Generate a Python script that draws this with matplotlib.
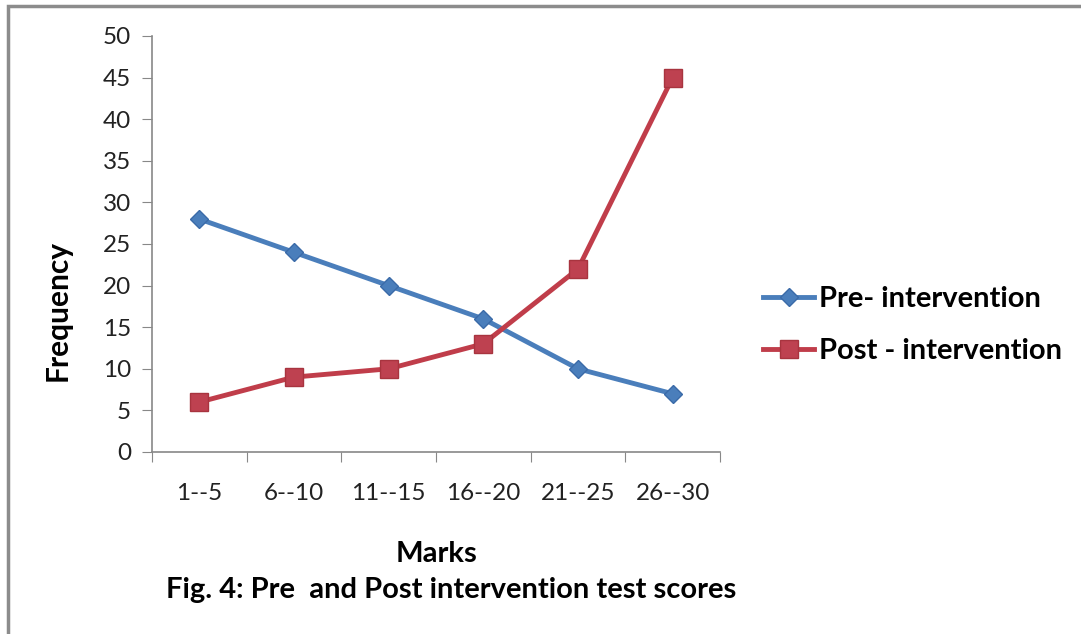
import matplotlib.pyplot as plt
from matplotlib.patches import Rectangle

# Frequency of test marks before and after the intervention
marks = ['1--5', '6--10', '11--15', '16--20', '21--25', '26--30']
pre_intervention = [28, 24, 20, 16, 10, 7]
post_intervention = [6, 9, 10, 13, 22, 45]

plt.rcParams['font.family'] = ['Lato', 'DejaVu Sans']

fig = plt.figure(figsize=(10.81, 6.34), dpi=100)

# gray frame around the chart area (right/bottom edges fall outside the image)
fig.patches.append(Rectangle((8 / 1081, -0.1), 1.2, (634 - 6) / 634 + 0.1,
                             transform=fig.transFigure, fill=False,
                             edgecolor='#8c8c8c', linewidth=2.5))

ax = fig.add_axes([152 / 1081, 182 / 634, 568 / 1081, 416 / 634])
x = range(len(marks))

ax.plot(x, pre_intervention, color='#4a7ebb', linewidth=3.5,
        marker='D', markersize=9, markerfacecolor='#4a7ebb',
        markeredgecolor='#3a6aa8', label='Pre- intervention')
ax.plot(x, post_intervention, color='#c03d4a', linewidth=3.5,
        marker='s', markersize=13, markerfacecolor='#be4150',
        markeredgecolor='#a8343f', label='Post - intervention')

ax.set_xlim(-0.5, len(marks) - 0.5)
ax.set_ylim(0, 50)
ax.set_yticks(range(0, 51, 5))

# category labels centred on points, tick marks between categories
ax.set_xticks([i - 0.5 for i in range(len(marks) + 1)])
ax.set_xticklabels([])
ax.set_xticks(list(x), minor=True)
ax.set_xticklabels(marks, minor=True, fontsize=17.5, color='#222222')
ax.tick_params(axis='x', which='minor', length=0, pad=22)
ax.tick_params(axis='x', which='major', length=7, color='#888888')
ax.tick_params(axis='y', length=7, color='#888888', labelsize=17.5,
               labelcolor='#222222', pad=8)

for side in ['top', 'right']:
    ax.spines[side].set_visible(False)
for side in ['left', 'bottom']:
    ax.spines[side].set_color('#888888')
    ax.spines[side].set_linewidth(1.2)

ax.set_ylabel('Frequency', fontsize=21.5, fontweight='bold')
ax.yaxis.set_label_coords(-80 / 568, 0.34)
ax.set_xlabel('Marks', fontsize=21, fontweight='bold', labelpad=27)

fig.text(451 / 1081, 1 - 590 / 634,
         'Fig. 4: Pre  and Post intervention test scores',
         ha='center', va='center', fontsize=21, fontweight='bold')

ax.legend(loc='center left', bbox_to_anchor=(1.03, 0.305), frameon=False,
          handlelength=1.75, handletextpad=0.15, labelspacing=0.9,
          prop={'weight': 'bold', 'size': 21})

fig.savefig('out.png', dpi=100, facecolor='white')
